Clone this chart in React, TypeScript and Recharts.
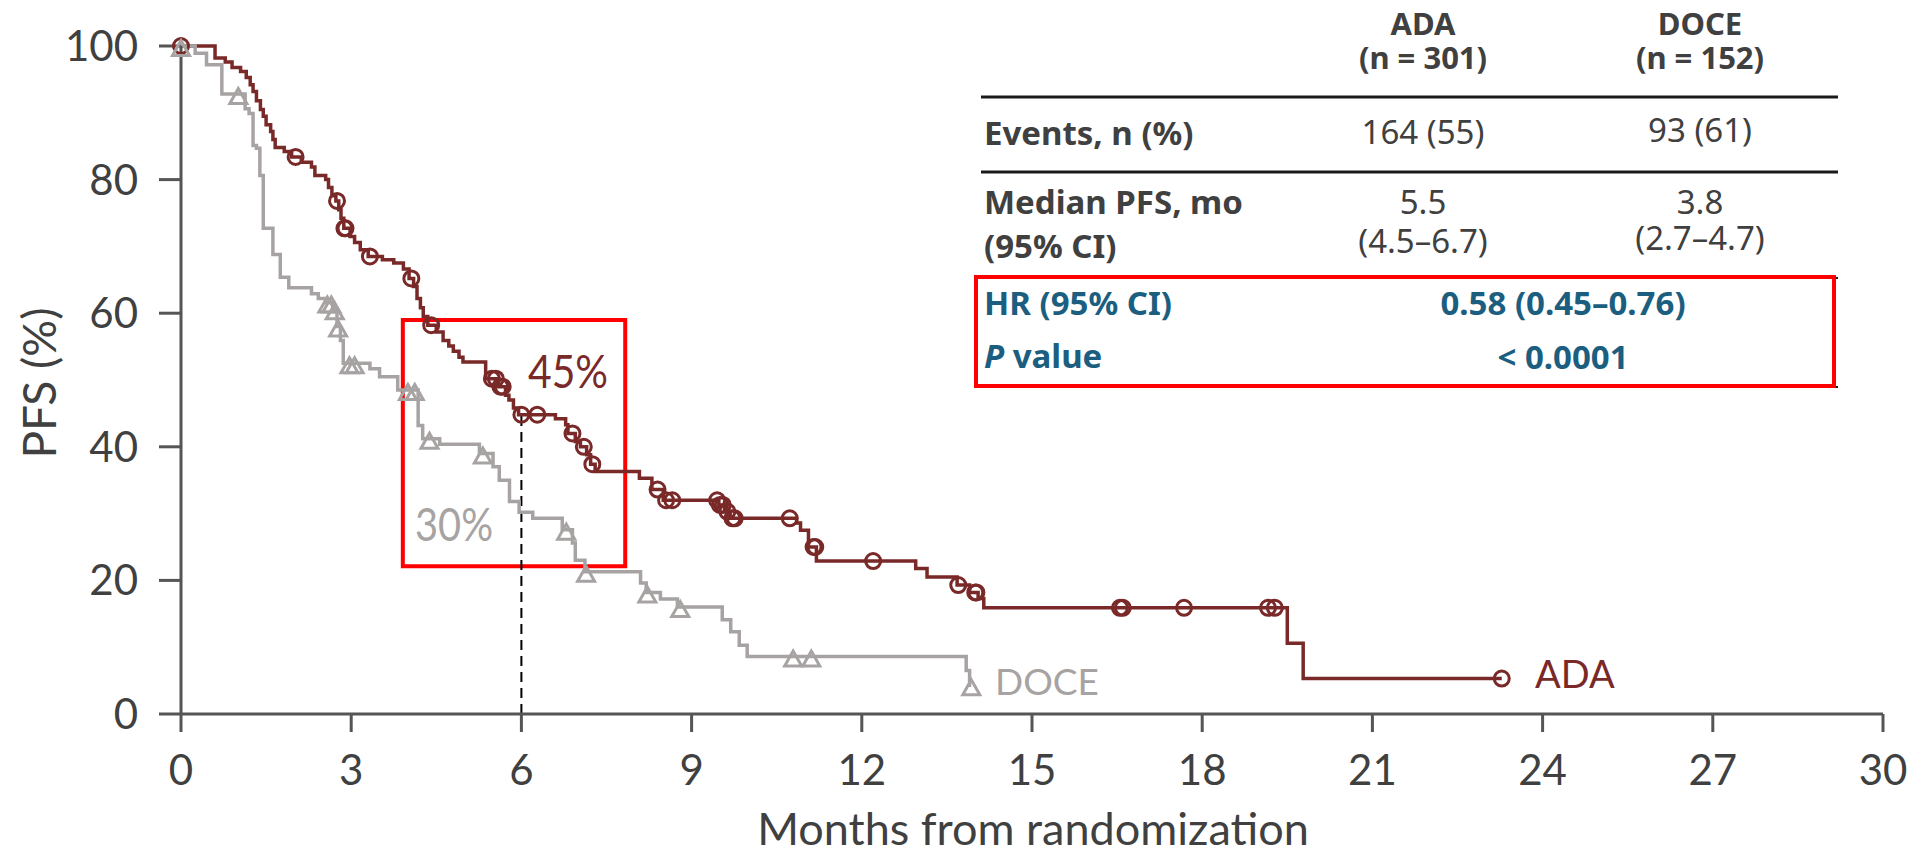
import React from 'react';
import {
  ComposedChart,
  Line,
  Scatter,
  XAxis,
  YAxis,
  ReferenceArea,
  ReferenceLine
} from 'recharts';

const ADA_COLOR = '#7A2929';
const DOCE_COLOR = '#A8A3A3';
const AXIS_COLOR = '#555555';
const TEXT_COLOR = '#404040';
const BLUE = '#1B5E80';

const xTicks = [0, 3, 6, 9, 12, 15, 18, 21, 24, 27, 30];
const yTicks = [0, 20, 40, 60, 80, 100];

// Kaplan-Meier steps: [months, PFS %]
const adaSteps: [number, number][] = [
  [0, 100], [0.6, 98.2], [0.78, 97.6], [0.9, 96.8], [1.05, 96.2], [1.15, 95.3],
  [1.22, 94.2], [1.27, 93.2], [1.33, 91.8], [1.4, 90.5], [1.45, 89.5], [1.5, 88.2],
  [1.58, 87.2], [1.62, 86.0], [1.66, 84.8], [1.82, 84.2], [1.95, 83.4], [2.12, 82.6],
  [2.3, 81.9], [2.36, 80.6], [2.55, 80.0], [2.6, 78.8], [2.66, 77.6], [2.73, 76.8],
  [2.78, 75.5], [2.82, 74.2], [2.87, 72.7], [2.98, 71.5], [3.06, 70.6], [3.16, 69.5],
  [3.3, 68.5], [3.55, 68.0], [3.75, 67.5], [3.92, 66.6], [4.02, 65.2], [4.1, 64.0],
  [4.16, 62.2], [4.22, 60.8], [4.27, 59.5], [4.35, 58.2], [4.5, 57.2], [4.62, 55.9],
  [4.72, 55.1], [4.8, 54.3], [4.9, 53.4], [4.97, 52.7], [5.37, 50.2], [5.6, 49.0],
  [5.72, 47.7], [5.78, 47.0], [5.86, 45.8], [5.95, 44.8], [6.6, 44.2], [6.78, 43.3],
  [6.82, 42.0], [6.95, 40.8], [7.04, 40.0], [7.15, 38.8], [7.22, 37.4], [7.3, 36.3],
  [8.08, 35.3], [8.3, 33.6], [8.5, 32.0], [9.48, 31.3], [9.58, 30.3], [9.68, 29.3],
  [10.85, 28.6], [10.92, 27.5], [11.06, 25.0], [11.2, 22.9], [12.95, 21.8], [13.15, 20.5],
  [13.68, 19.3], [13.9, 18.2], [14.05, 17.3], [14.15, 15.9], [19.5, 10.6], [19.78, 5.3],
  [23.28, 5.3]
];

const adaCensored: [number, number][] = [
  [0, 100], [2.02, 83.4], [2.75, 76.8], [2.88, 72.7], [2.9, 72.7], [3.33, 68.5],
  [4.06, 65.2], [4.41, 58.2], [5.48, 50.2], [5.55, 50.2], [5.63, 49.0], [5.67, 49.0],
  [6.0, 44.8], [6.28, 44.8], [6.9, 42.0], [7.1, 40.0], [7.25, 37.4],
  [8.4, 33.6], [8.55, 32.0], [8.66, 32.0], [9.45, 32.0], [9.5, 31.3],
  [9.55, 31.3], [9.63, 30.3], [9.72, 29.3], [9.76, 29.3], [10.73, 29.3], [11.15, 25.0],
  [11.18, 25.0], [12.2, 22.9], [13.7, 19.3], [14.0, 18.2], [14.02, 18.2], [16.55, 15.9],
  [16.6, 15.9], [17.68, 15.9], [19.16, 15.9], [19.28, 15.9], [23.28, 5.3]
];

const doceSteps: [number, number][] = [
  [0, 100], [0.25, 98.9], [0.45, 97.2], [0.72, 92.8], [1.13, 90.6], [1.2, 89.9],
  [1.27, 85.1], [1.33, 84.7], [1.39, 80.6], [1.45, 72.7], [1.62, 68.8], [1.75, 65.4],
  [1.9, 63.8], [2.3, 62.9], [2.42, 62.2], [2.55, 61.6], [2.69, 60.6], [2.75, 58.0],
  [2.81, 55.9], [2.86, 52.5], [3.33, 51.7], [3.5, 50.5], [3.82, 48.5], [4.18, 43.2],
  [4.26, 41.2], [4.56, 40.4], [5.26, 39.0], [5.5, 37.0], [5.61, 35.0], [5.79, 31.8],
  [5.96, 30.2], [6.2, 29.3], [6.72, 27.6], [6.9, 25.6], [6.95, 23.0], [7.12, 21.3],
  [8.1, 19.6], [8.2, 18.2], [8.45, 17.2], [8.75, 16.0], [9.54, 14.1], [9.69, 12.3],
  [9.84, 10.3], [9.98, 8.6], [13.84, 6.5], [13.9, 4.3], [13.93, 4.3]
];

const doceCensored: [number, number][] = [
  [0, 100], [1.01, 92.8], [2.58, 61.6], [2.65, 61.6], [2.71, 60.6], [2.77, 58.0],
  [2.97, 52.5], [3.06, 52.5], [4.0, 48.5], [4.12, 48.5], [4.38, 41.2], [5.32, 39.0],
  [6.79, 27.6], [7.14, 21.3], [8.22, 18.2], [8.8, 16.0], [10.79, 8.6], [11.11, 8.6],
  [13.93, 4.3]
];

// 6-month landmark and highlight box
const landmark = { month: 6, ada: 44.8 };
const highlightBox = { x1: 3.91, x2: 7.83, y1: 22.1, y2: 59 };

// summary table
const armNames = ['ADA', 'DOCE'];
const armCounts = ['(n = 301)', '(n = 152)'];
const eventsValues = ['164 (55)', '93 (61)'];
const medianValues = ['5.5', '3.8'];
const medianCis = ['(4.5–6.7)', '(2.7–4.7)'];
const hazardRatio = '0.58 (0.45–0.76)';
const pValue = '< 0.0001';

const toPoints = (rows: [number, number][]) => rows.map(([t, s]) => ({ t, s }));

const CircleMark = (props: any) => (
  <circle cx={props.cx} cy={props.cy} r={7.5} fill="none" stroke={ADA_COLOR} strokeWidth={3} />
);

const TriangleMark = (props: any) => {
  const { cx, cy } = props;
  const w = 17;
  const h = 15;
  const top = cy - h / 2 + 2;
  return (
    <polygon
      points={`${cx},${top} ${cx - w / 2},${top + h} ${cx + w / 2},${top + h}`}
      fill="none"
      stroke={DOCE_COLOR}
      strokeWidth={3}
    />
  );
};

const chartFont = 'Lato, "Open Sans", sans-serif';
const tableFont = '"Noto Sans", "Open Sans", sans-serif';

const colX = [1423, 1700];
const midX = 1563;
const labelX = 984;

const SummaryTable = () => (
  <g fontFamily={tableFont} fontSize={33} fill={TEXT_COLOR}>
    {armNames.map((name, i) => (
      <text key={name} fontSize={31} textAnchor="middle" fontWeight="bold">
        <tspan x={colX[i]} y={35}>{name}</tspan>
        <tspan x={colX[i]} y={69}>{armCounts[i]}</tspan>
      </text>
    ))}
    <line x1={981} x2={1838} y1={97} y2={97} stroke="#1a1a1a" strokeWidth={3} />

    <text x={labelX} y={145} fontWeight="bold">Events, n (%)</text>
    {eventsValues.map((v, i) => (
      <text key={v} x={colX[i]} y={144 - i * 2} textAnchor="middle">{v}</text>
    ))}
    <line x1={981} x2={1838} y1={172} y2={172} stroke="#1a1a1a" strokeWidth={3} />

    <text fontWeight="bold">
      <tspan x={labelX} y={214}>Median PFS, mo</tspan>
      <tspan x={labelX} y={258}>(95% CI)</tspan>
    </text>
    {medianValues.map((v, i) => (
      <text key={v} textAnchor="middle">
        <tspan x={colX[i]} y={214}>{v}</tspan>
        <tspan x={colX[i]} y={253 - i * 3}>{medianCis[i]}</tspan>
      </text>
    ))}
    <line x1={981} x2={1838} y1={278} y2={278} stroke="#1a1a1a" strokeWidth={2} />

    <text x={labelX} y={315} fontWeight="bold" fill={BLUE}>HR (95% CI)</text>
    <text x={midX} y={315} fontWeight="bold" fill={BLUE} textAnchor="middle">{hazardRatio}</text>
    <text x={labelX} y={368} fontWeight="bold" fill={BLUE}>
      <tspan fontStyle="italic">P</tspan> value
    </text>
    <text x={midX} y={369} fontWeight="bold" fill={BLUE} textAnchor="middle">{pValue}</text>
    <line x1={981} x2={1838} y1={387} y2={387} stroke="#1a1a1a" strokeWidth={2} />

    <rect x={976} y={277} width={858} height={109} fill="none" stroke="#FF0000" strokeWidth={4} />
  </g>
);

const App = () => {
  return (
    <div style={{ position: 'absolute', left: 0, top: 0, width: 1916, height: 856, background: '#fff' }}>
      <ComposedChart
        width={1916}
        height={856}
        margin={{ top: 46, right: 33, bottom: 0, left: 0 }}
      >
        <XAxis
          type="number"
          dataKey="t"
          domain={[0, 30]}
          ticks={xTicks}
          interval={0}
          height={142}
          tickSize={18}
          tickMargin={23}
          axisLine={{ stroke: AXIS_COLOR, strokeWidth: 3 }}
          tickLine={{ stroke: AXIS_COLOR, strokeWidth: 3 }}
          tick={{ fill: TEXT_COLOR, fontSize: 42, fontFamily: chartFont }}
        />
        <YAxis
          type="number"
          dataKey="s"
          domain={[0, 100]}
          ticks={yTicks}
          interval={0}
          width={181}
          tickSize={22}
          tickMargin={21}
          axisLine={{ stroke: AXIS_COLOR, strokeWidth: 3 }}
          tickLine={{ stroke: AXIS_COLOR, strokeWidth: 3 }}
          tick={{ fill: TEXT_COLOR, fontSize: 42, fontFamily: chartFont }}
        />
        <ReferenceLine
          segment={[{ x: landmark.month, y: 0 }, { x: landmark.month, y: landmark.ada }]}
          stroke="#000"
          strokeWidth={2}
          strokeDasharray="10 6"
        />
        <Line
          data={toPoints(adaSteps)}
          dataKey="s"
          type="stepAfter"
          stroke={ADA_COLOR}
          strokeWidth={3.5}
          dot={false}
          isAnimationActive={false}
        />
        <Line
          data={toPoints(doceSteps)}
          dataKey="s"
          type="stepAfter"
          stroke={DOCE_COLOR}
          strokeWidth={3.5}
          dot={false}
          isAnimationActive={false}
        />
        <Scatter data={toPoints(adaCensored)} shape={CircleMark} isAnimationActive={false} />
        <Scatter data={toPoints(doceCensored)} shape={TriangleMark} isAnimationActive={false} />
        <ReferenceArea
          x1={highlightBox.x1}
          x2={highlightBox.x2}
          y1={highlightBox.y1}
          y2={highlightBox.y2}
          fill="none"
          fillOpacity={0}
          stroke="#FF0000"
          strokeWidth={4}
        />
      </ComposedChart>

      <svg
        width={1916}
        height={856}
        style={{ position: 'absolute', left: 0, top: 0, pointerEvents: 'none' }}
      >
        <g fontFamily={chartFont}>
          <text x={528} y={388} fontSize={46} fill={ADA_COLOR} textLength={80} lengthAdjust="spacingAndGlyphs">45%</text>
          <text x={415} y={541} fontSize={46} fill={DOCE_COLOR} textLength={78} lengthAdjust="spacingAndGlyphs">30%</text>
          <text x={1535} y={688} fontSize={38} fill={ADA_COLOR}>ADA</text>
          <text x={995} y={695} fontSize={37} fill={DOCE_COLOR}>DOCE</text>
          <text x={1033} y={845} fontSize={45} fill={TEXT_COLOR} textAnchor="middle">
            Months from randomization
          </text>
          <text
            transform="translate(56,383) rotate(-90)"
            fontSize={46}
            fill={TEXT_COLOR}
            textAnchor="middle"
          >
            PFS (%)
          </text>
        </g>
        <SummaryTable />
      </svg>
    </div>
  );
};

export default App;
